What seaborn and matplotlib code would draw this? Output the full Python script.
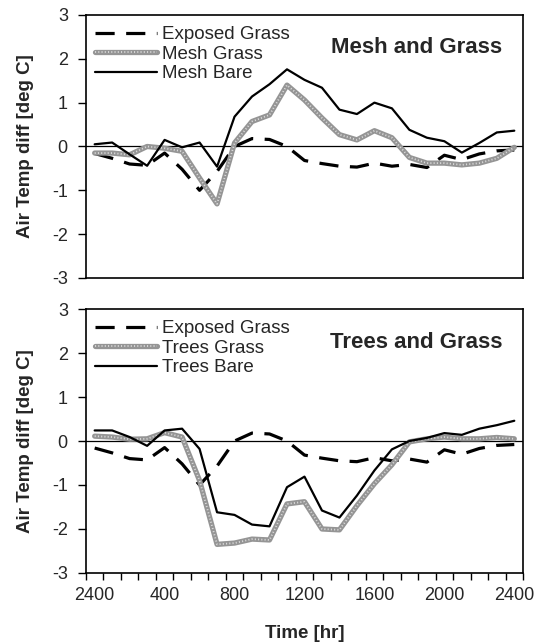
import numpy as np
import pandas as pd
import matplotlib
matplotlib.use("Agg")
import matplotlib.pyplot as plt
import seaborn as sns
from matplotlib.lines import Line2D
from matplotlib.legend_handler import HandlerTuple

# ---- data (hourly, 2400 -> 2400) ----
hours = [2400, 100, 200, 300, 400, 500, 600, 700, 800, 900, 1000, 1100, 1200,
         1300, 1400, 1500, 1600, 1700, 1800, 1900, 2000, 2100, 2200, 2300, 2400]
tick_labels = ["2400", "400", "800", "1200", "1600", "2000", "2400"]

exposed_grass = [-0.16, -0.27, -0.40, -0.43, -0.15, -0.52, -1.00, -0.57, 0.00, 0.18,
                 0.16, 0.00, -0.32, -0.39, -0.45, -0.47, -0.38, -0.45, -0.41, -0.48,
                 -0.20, -0.30, -0.17, -0.10, -0.08]

mesh_grass = [-0.15, -0.15, -0.19, 0.00, -0.04, -0.11, -0.72, -1.31, 0.08, 0.57,
              0.72, 1.40, 1.06, 0.65, 0.27, 0.15, 0.36, 0.20, -0.25, -0.38,
              -0.38, -0.42, -0.38, -0.27, -0.02]
mesh_bare = [0.05, 0.09, -0.18, -0.44, 0.15, -0.02, 0.09, -0.46, 0.68, 1.14,
             1.42, 1.76, 1.52, 1.34, 0.84, 0.74, 1.00, 0.87, 0.38, 0.20,
             0.12, -0.14, 0.08, 0.32, 0.36]

trees_grass = [0.11, 0.09, 0.04, 0.05, 0.19, 0.09, -0.90, -2.35, -2.32, -2.23,
               -2.25, -1.43, -1.38, -2.00, -2.02, -1.47, -0.97, -0.54, -0.02, 0.05,
               0.09, 0.05, 0.05, 0.08, 0.05]
trees_bare = [0.24, 0.24, 0.09, -0.11, 0.24, 0.28, -0.18, -1.62, -1.68, -1.90,
              -1.94, -1.05, -0.81, -1.58, -1.74, -1.24, -0.67, -0.19, 0.00, 0.07,
              0.18, 0.14, 0.28, 0.36, 0.46]

x = np.arange(len(hours))

sns.set_theme(style="white")
plt.rcParams['font.family'] = ['Liberation Sans', 'DejaVu Sans']

fig = plt.figure(figsize=(5.37, 6.43), dpi=100)
ax1 = fig.add_axes([0.160, 0.5677, 0.814, 0.409])
ax2 = fig.add_axes([0.160, 0.1089, 0.814, 0.4105])

GRAY_BASE = "#959595"
GRAY_DOT = "#dadada"
TICK_FS = 13


def draw_panel(ax, grass, bare, name_grass, name_bare, title):
    # exposed grass, dashed
    sns.lineplot(x=x, y=exposed_grass, ax=ax, color="black", lw=2.3,
                 legend=False)
    ax.lines[-1].set_dashes((6, 3.6))
    # grass under canopy: checkered grey line
    sns.lineplot(x=x, y=grass, ax=ax, color=GRAY_BASE, lw=3.8, legend=False)
    sns.lineplot(x=x, y=grass, ax=ax, color=GRAY_DOT, lw=1.3, legend=False)
    ax.lines[-1].set_dashes((0.6, 1.2))
    # bare, solid black
    sns.lineplot(x=x, y=bare, ax=ax, color="black", lw=1.6, legend=False)

    ax.axhline(0, color="black", lw=0.9, zorder=1)

    ax.set_xlim(-0.5, len(hours) - 0.5)
    ax.set_ylim(-3, 3)
    ax.set_yticks(range(-3, 4))
    ax.set_yticklabels([str(v) for v in range(-3, 4)], fontsize=TICK_FS)
    ax.tick_params(axis="y", which="major", direction="out", length=6,
                   width=1, color="black", left=True, pad=7)
    ax.set_ylabel("Air Temp diff [deg C]", fontsize=13.5, fontweight="bold",
                  labelpad=13)
    ax.set_xlabel("")
    for s in ax.spines.values():
        s.set_color("black")
        s.set_linewidth(1.2)

    ax.text(0.952, 0.875, title, transform=ax.transAxes, ha="right",
            va="center", fontsize=16, fontweight="bold")

    h_exp = Line2D([], [], color="black", lw=2.3, dashes=(6, 3.6))
    h_g1 = Line2D([], [], color=GRAY_BASE, lw=3.8)
    h_g2 = Line2D([], [], color=GRAY_DOT, lw=1.3, dashes=(0.6, 1.2))
    h_bare = Line2D([], [], color="black", lw=1.6)
    ax.legend([h_exp, (h_g1, h_g2), h_bare],
              ["Exposed Grass", name_grass, name_bare],
              handler_map={tuple: HandlerTuple(ndivide=1, pad=0)},
              loc="upper left", bbox_to_anchor=(-0.005, 1.0), frameon=False,
              fontsize=13.5, handlelength=3.3, handletextpad=0.3,
              labelspacing=0.12, borderaxespad=0.2)


draw_panel(ax1, mesh_grass, mesh_bare, "Mesh Grass", "Mesh Bare", "Mesh and Grass")
draw_panel(ax2, trees_grass, trees_bare, "Trees Grass", "Trees Bare", "Trees and Grass")

# top panel: no x ticks
ax1.set_xticks([])
ax1.tick_params(axis="x", bottom=False, labelbottom=False)

# bottom panel: category boundary ticks + labels every 400 hr
ax2.set_xticks(x[::4])
ax2.set_xticklabels(tick_labels, fontsize=TICK_FS)
ax2.set_xticks(np.arange(-0.5, len(hours), 1.0), minor=True)
ax2.tick_params(axis="x", which="major", length=0, pad=10)
ax2.tick_params(axis="x", which="minor", bottom=True, direction="out",
                length=5, width=1, color="black")
ax2.set_xlabel("Time [hr]", fontsize=13.5, fontweight="bold", labelpad=15)

fig.savefig("out.png", dpi=100)
